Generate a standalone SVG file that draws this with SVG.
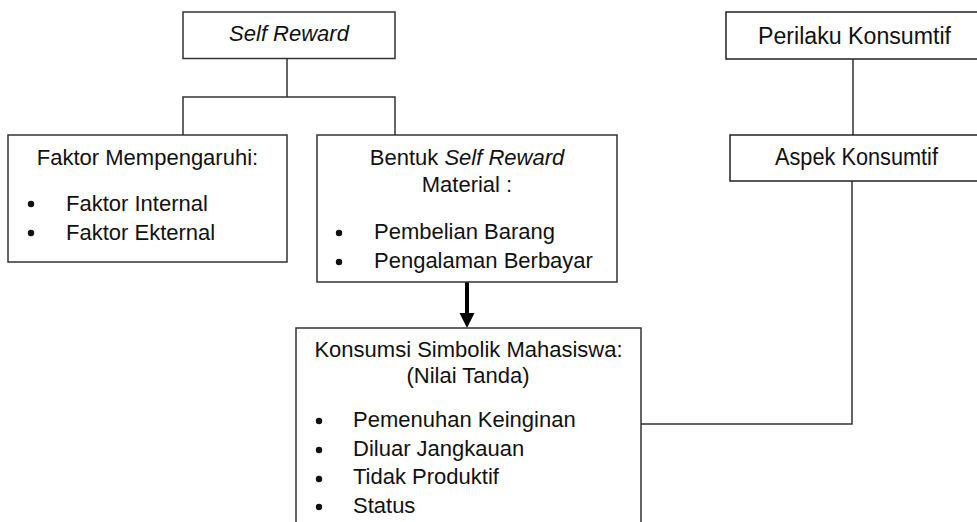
<svg xmlns="http://www.w3.org/2000/svg" width="977" height="522" viewBox="0 0 977 522">
<style>
.box{fill:#fff;stroke:#333;stroke-width:1.5}
.ln{fill:none;stroke:#333;stroke-width:1.5}
.t{font-family:"Liberation Sans",Arial,sans-serif;font-size:22px;fill:#111}
.c{text-anchor:middle}
.i{font-style:italic}
.b{fill:#111}
</style>
<rect width="977" height="522" fill="#fff"/>
<g id="connectors">
<path class="ln" d="M287 58.5V97M183 135V97H395V135"/>
<path class="ln" d="M853 59V135"/>
<path class="ln" d="M852 181V424H641"/>
<line x1="467" y1="282" x2="467" y2="314" stroke="#000" stroke-width="4"/>
<polygon points="459.5,313 474.5,313 467,328" fill="#000"/>
</g>
<g id="self-reward">
<rect class="box" x="183" y="12" width="212" height="46.5"/>
<text class="t c i" x="289" y="41">Self Reward</text>
</g>
<g id="perilaku">
<rect class="box" x="726" y="12" width="260" height="47" style="stroke:#222"/>
<text class="t" x="758" y="44" style="font-size:23px" textLength="193" lengthAdjust="spacingAndGlyphs">Perilaku Konsumtif</text>
</g>
<g id="faktor">
<rect class="box" x="8" y="135" width="279" height="127"/>
<text class="t c" x="147.5" y="165">Faktor Mempengaruhi:</text>
<circle class="b" cx="31" cy="204" r="3.2"/>
<circle class="b" cx="31" cy="233" r="3.2"/>
<text class="t" x="66" y="211">Faktor Internal</text>
<text class="t" x="66" y="240">Faktor Ekternal</text>
</g>
<g id="bentuk">
<rect class="box" x="317" y="135" width="300" height="147"/>
<text class="t c" x="467" y="165">Bentuk <tspan class="i">Self Reward</tspan></text>
<text class="t c" x="467" y="192">Material :</text>
<circle class="b" cx="339" cy="233" r="3.2"/>
<circle class="b" cx="339" cy="262" r="3.2"/>
<text class="t" x="374" y="239">Pembelian Barang</text>
<text class="t" x="374" y="268">Pengalaman Berbayar</text>
</g>
<g id="aspek">
<rect class="box" x="730" y="135" width="256" height="46" style="stroke:#222"/>
<text class="t" x="775" y="165" style="font-size:23px" textLength="163" lengthAdjust="spacingAndGlyphs">Aspek Konsumtif</text>
</g>
<g id="konsumsi">
<rect class="box" x="296" y="328" width="345" height="210"/>
<text class="t c" x="468.5" y="357">Konsumsi Simbolik Mahasiswa:</text>
<text class="t c" x="468" y="383">(Nilai Tanda)</text>
<circle class="b" cx="319" cy="421" r="3.2"/>
<circle class="b" cx="319" cy="450" r="3.2"/>
<circle class="b" cx="319" cy="479" r="3.2"/>
<circle class="b" cx="319" cy="507" r="3.2"/>
<text class="t" x="353" y="427">Pemenuhan Keinginan</text>
<text class="t" x="353" y="456">Diluar Jangkauan</text>
<text class="t" x="353" y="484">Tidak Produktif</text>
<text class="t" x="353" y="513">Status</text>
</g>
</svg>
